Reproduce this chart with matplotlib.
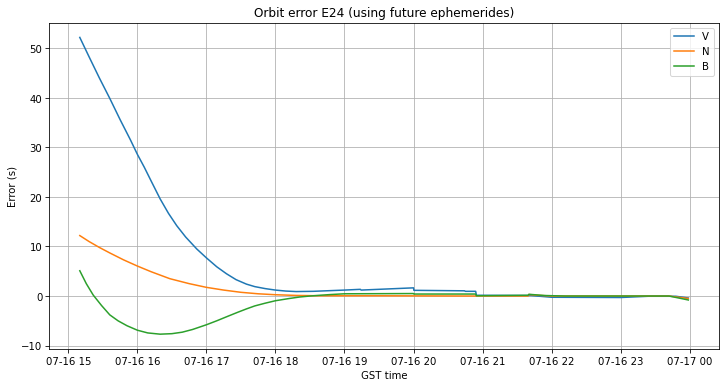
import pandas as pd
import matplotlib
matplotlib.use('Agg')
import matplotlib.pyplot as plt
import matplotlib.dates as mdates

# hours since 07-16 00:00 (GST), values in seconds
v_hours = [15.166, 15.3, 15.45, 15.6, 15.75, 15.9, 16.0, 16.1, 16.2, 16.33,
           16.45, 16.57, 16.7, 16.86, 17.0, 17.15, 17.29, 17.43, 17.58, 17.7,
           17.85, 18.0, 18.15, 18.3, 18.55, 19.0, 19.23, 19.24, 20.0, 20.005,
           20.74, 20.75, 20.9, 20.91, 21.7, 22.0, 23.0, 23.4, 23.8, 23.98]
v_err = [52.2, 48.3, 44.0, 39.9, 35.6, 31.5, 28.6, 26.0, 23.2, 19.6,
         16.7, 14.2, 11.9, 9.5, 7.7, 5.9, 4.5, 3.3, 2.4, 1.9,
         1.5, 1.2, 1.0, 0.9, 0.95, 1.2, 1.35, 1.2, 1.65, 1.15,
         1.05, 0.95, 0.95, 0.15, 0.1, -0.25, -0.3, -0.05, -0.05, -0.4]

n_hours = [15.166, 15.3, 15.45, 15.6, 15.8, 16.0, 16.2, 16.47, 16.75, 17.0,
           17.25, 17.5, 17.75, 18.0, 18.3, 18.64, 19.5, 20.9, 21.66, 21.67,
           21.8, 22.0, 23.7, 23.98]
n_err = [12.2, 11.0, 9.8, 8.7, 7.3, 6.05, 4.9, 3.5, 2.5, 1.75,
         1.2, 0.75, 0.45, 0.26, 0.12, 0.05, 0.05, 0.0, 0.0, 0.3,
         0.15, 0.0, 0.0, -0.5]

b_hours = [15.166, 15.26, 15.36, 15.48, 15.6, 15.72, 15.85, 16.0, 16.15, 16.33,
           16.5, 16.65, 16.8, 17.0, 17.15, 17.29, 17.45, 17.58, 17.7, 17.85,
           18.0, 18.2, 18.35, 18.5, 18.64, 18.8, 19.0, 20.0, 20.005, 20.9,
           20.91, 21.66, 21.67, 21.9, 22.2, 23.7, 23.98]
b_err = [5.1, 2.5, 0.2, -1.9, -3.8, -5.0, -6.0, -6.9, -7.45, -7.7,
         -7.6, -7.3, -6.75, -5.8, -5.0, -4.2, -3.3, -2.6, -2.0, -1.45,
         -0.95, -0.5, -0.2, 0.0, 0.15, 0.3, 0.45, 0.5, 0.4, 0.4,
         0.05, 0.15, 0.35, 0.1, 0.0, 0.0, -0.8]

def to_time(hours):
    return pd.Timestamp('2020-07-16') + pd.to_timedelta(hours, unit='h')

fig = plt.figure(figsize=(10.0, 5.34), dpi=72.6)
ax = fig.add_axes([0.068, 0.098, 0.922, 0.842])

ax.plot(to_time(v_hours), v_err, label='V')
ax.plot(to_time(n_hours), n_err, label='N')
ax.plot(to_time(b_hours), b_err, label='B')

ax.xaxis.set_major_locator(mdates.HourLocator(interval=1))
ax.xaxis.set_major_formatter(mdates.DateFormatter('%m-%d %H'))
ax.grid(True)
ax.set_title('Orbit error E24 (using future ephemerides)')
ax.set_xlabel('GST time')
ax.set_ylabel('Error (s)')
ax.legend(loc='upper right')

fig.savefig('out.png', dpi=72.6)
